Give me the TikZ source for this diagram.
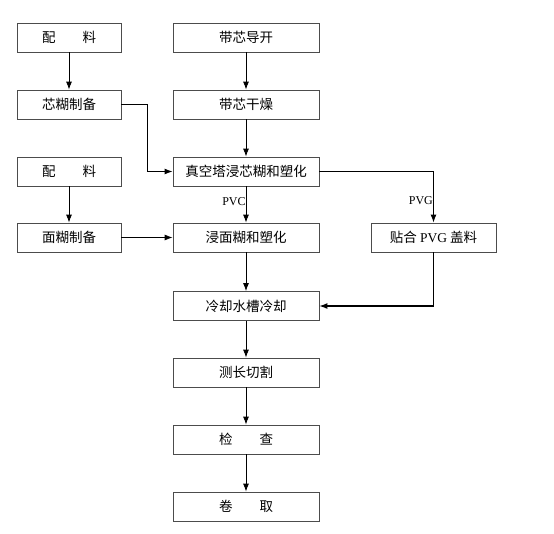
\documentclass[tikz,border=0pt]{standalone}
\usepackage{fontspec}
\setmainfont{Liberation Serif}
\newfontfamily\cjk{Noto Sans CJK SC}
\newfontfamily\lat{Liberation Serif}
\usetikzlibrary{arrows.meta}

\begin{document}
\begin{tikzpicture}[
    x=1pt, y=-1pt,
    >={Latex[length=8pt,width=6pt]},
    every node/.style={align=center},
    stepbox/.style={rectangle, draw=black!70, line width=0.8pt, inner sep=0pt, minimum height=29pt, font=\cjk\fontsize{13.5}{15}\selectfont},
    leftbox/.style={stepbox, minimum width=104pt},
    midbox/.style={stepbox, minimum width=146pt},
    rightbox/.style={stepbox, minimum width=125pt},
    flow/.style={->, line width=0.8pt},
    flowthick/.style={->, line width=1.2pt},
    tag/.style={font=\lat\fontsize{12}{14}\selectfont, inner sep=0pt}
]
\useasboundingbox (0,0) rectangle (554,533);

% Nodes
\node[leftbox] (pl1) at (69, 37.5) {配\hspace{2em}料};
\node[leftbox] (xinhu) at (69, 104.5) {芯糊制备};
\node[leftbox] (pl2) at (69, 171.5) {配\hspace{2em}料};
\node[leftbox] (mianhu) at (69, 237.5) {面糊制备};
\node[midbox] (daokai) at (246, 37.5) {带芯导开};
\node[midbox] (ganzao) at (246, 104.5) {带芯干燥};
\node[midbox] (zhenkong) at (246, 171.5) {真空塔浸芯糊和塑化};
\node[midbox] (jinmian) at (246, 237.5) {浸面糊和塑化};
\node[rightbox] (tiehe) at (433.5, 237.5) {贴合 {\lat PVG} 盖料};
\node[midbox] (lengque) at (246, 306) {冷却水槽冷却};
\node[midbox] (cechang) at (246, 372.5) {测长切割};
\node[midbox] (jiancha) at (246, 439.5) {检\hspace{2em}查};
\node[midbox] (juanqu) at (246, 506.5) {卷\hspace{2em}取};

% Arrows
\draw[flow] (pl1) -- (xinhu);
\draw[flow] (pl2) -- (mianhu);
\draw[flow] (daokai) -- (ganzao);
\draw[flow] (ganzao) -- (zhenkong);
\draw[flowthick] (xinhu.east) -- ++(26,0) |- (zhenkong.west);
\draw[flow] (zhenkong) -- node[tag, anchor=east, pos=0.42] {PVC} (jinmian);
\draw[flowthick] (zhenkong.east) -| node[tag, anchor=east, pos=0.78] {PVG} (tiehe.north);
\draw[flow] (mianhu) -- (jinmian);
\draw[flow] (jinmian) -- (lengque);
\draw[flowthick] (tiehe.south) |- (lengque.east);
\draw[flow] (lengque) -- (cechang);
\draw[flow] (cechang) -- (jiancha);
\draw[flow] (jiancha) -- (juanqu);

\end{tikzpicture}
\end{document}
